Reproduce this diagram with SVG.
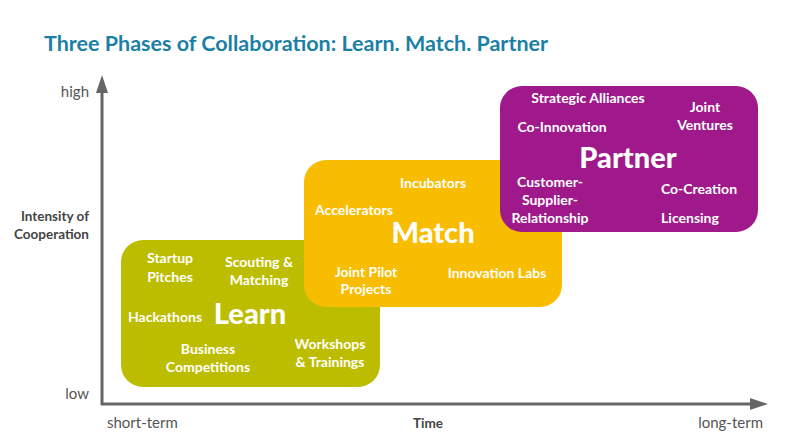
<svg xmlns="http://www.w3.org/2000/svg" width="794" height="441" viewBox="0 0 794 441">
<style>
text{font-family:Lato,"Liberation Sans",sans-serif}
.title{font-size:21.5px;font-weight:700;fill:#1B7FA6}
.ax{font-size:15px;fill:#555}
.axb{font-size:13.5px;fill:#444;font-weight:700}
.it{font-size:14px;font-weight:700;fill:#fff;text-anchor:middle}
.big{font-size:29px;font-weight:900;fill:#fff;text-anchor:middle}
.axis{stroke:#666;stroke-width:3;fill:none}
</style>
<defs>
<marker id="arr" viewBox="0 0 10 10" refX="0" refY="5" markerWidth="6" markerHeight="4" markerUnits="strokeWidth" orient="auto" preserveAspectRatio="none">
<path d="M0,0 L10,5 L0,10 z" fill="#666"/>
</marker>
</defs>
<rect width="794" height="441" fill="#fff"/>
<text class="title" x="44" y="51">Three Phases of Collaboration: Learn. Match. Partner</text>

<g id="connectors">
<path class="axis" d="M102,405 L102,93" marker-end="url(#arr)"/>
<path class="axis" d="M101,404 L750,404" marker-end="url(#arr)"/>
</g>

<g id="axis-labels">
<text class="ax" x="89" y="97" text-anchor="end">high</text>
<text class="ax" x="89" y="399" text-anchor="end">low</text>
<text class="axb" x="89" y="221" text-anchor="end">Intensity of</text>
<text class="axb" x="89" y="239" text-anchor="end">Cooperation</text>
<text class="ax" x="107" y="428">short-term</text>
<text class="axb" x="428" y="428" text-anchor="middle">Time</text>
<text class="ax" x="763" y="428" text-anchor="end">long-term</text>
</g>

<g id="learn">
<rect x="121" y="240" width="259" height="147" rx="22" fill="#BDBD00"/>
<text class="it" x="170" y="263">Startup</text>
<text class="it" x="170" y="282">Pitches</text>
<text class="it" x="259" y="267">Scouting &amp;</text>
<text class="it" x="259" y="285">Matching</text>
<text class="it" x="165" y="322">Hackathons</text>
<text class="big" x="250" y="324">Learn</text>
<text class="it" x="208" y="354">Business</text>
<text class="it" x="208" y="372">Competitions</text>
<text class="it" x="330" y="349">Workshops</text>
<text class="it" x="330" y="367">&amp; Trainings</text>
</g>

<g id="match">
<rect x="304" y="160" width="258" height="147" rx="22" fill="#F8BD00"/>
<text class="it" x="433" y="188">Incubators</text>
<text class="it" x="354" y="215">Accelerators</text>
<text class="big" x="433" y="243">Match</text>
<text class="it" x="366" y="277">Joint Pilot</text>
<text class="it" x="366" y="294">Projects</text>
<text class="it" x="497" y="278">Innovation Labs</text>
</g>

<g id="partner">
<rect x="500" y="86" width="258" height="146" rx="22" fill="#A0198A"/>
<text class="it" x="588" y="103">Strategic Alliances</text>
<text class="it" x="705" y="112">Joint</text>
<text class="it" x="705" y="130">Ventures</text>
<text class="it" x="562" y="132">Co-Innovation</text>
<text class="big" x="628" y="168">Partner</text>
<text class="it" x="550" y="187">Customer-</text>
<text class="it" x="550" y="205">Supplier-</text>
<text class="it" x="550" y="223">Relationship</text>
<text class="it" x="699" y="194">Co-Creation</text>
<text class="it" x="690" y="223">Licensing</text>
</g>
</svg>
